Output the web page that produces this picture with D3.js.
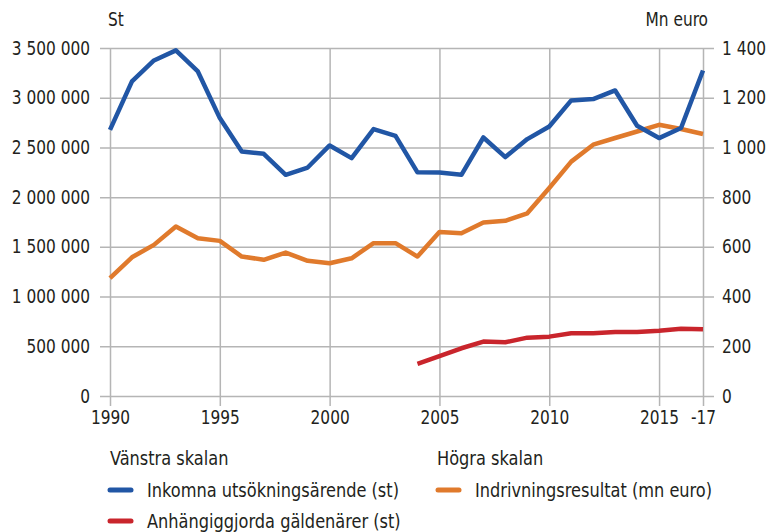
<!doctype html>
<html>
<head>
<meta charset="utf-8">
<script src="https://cdn.jsdelivr.net/npm/d3@7"></script>
<style>
  body { margin: 0; background: #fff; }
  svg { display: block; }
  text { font-family: "DejaVu Sans Condensed", "DejaVu Sans", sans-serif; fill: #231f20; }
</style>
</head>
<body>
<script>
// data
const years = d3.range(1990, 2018)
const inkomna = [2677000, 3164000, 3375000, 3476000, 3264000, 2795000, 2459000, 2436000, 2225000, 2298000,
                 2520000, 2392000, 2684000, 2617000, 2250000, 2248000, 2225000, 2600000, 2403000, 2584000,
                 2711000, 2973000, 2986000, 3073000, 2718000, 2594000, 2695000, 3274000]
const indrivning = [474, 558, 608, 682, 635, 624, 561, 548, 577, 544,
                    534, 554, 615, 615, 561, 660, 655, 698, 705, 735,
                    837, 943, 1011, 1038, 1064, 1091, 1074, 1054]
const gaeldYears = d3.range(2004, 2018)
const gaeldenarer = [322000, 400000, 480000, 547000, 540000, 587000, 597000, 631000, 631000, 644000,
                     644000, 657000, 677000, 671000]
const leftTicks = [0, 500000, 1000000, 1500000, 2000000, 2500000, 3000000, 3500000]
const rightTicks = [0, 200, 400, 600, 800, 1000, 1200, 1400]
const xTicks = [1990, 1995, 2000, 2005, 2010, 2015, 2017]
const xTickLabels = ['1990', '1995', '2000', '2005', '2010', '2015', '-17']

const w = 769
const h = 532
const pLeft = 110, pRight = 703, pTop = 48, pBottom = 396
const grid = '#b5b5b5'
const blue = '#2156a5'
const orange = '#e07a2c'
const red = '#c9252c'
const sx = 0.9 // the reference font is narrower than anything installed

const fmt = d3.formatLocale({ decimal: ',', thousands: ' ', grouping: [3], currency: ['', ' €'] }).format(',d')

// move x/y into a transform so the glyphs can be squeezed sideways
function squeeze(sel) {
    sel.each(function () {
        const t = d3.select(this)
        const tx = +t.attr('x') || 0
        const ty = +t.attr('y') || 0
        t.attr('x', 0).attr('y', 0)
            .attr('transform', `translate(${tx},${ty}) scale(${sx},1)`)
    })
}

const x = d3.scaleLinear().domain([1990, 2017]).range([pLeft, pRight])
const yL = d3.scaleLinear().domain([0, 3500000]).range([pBottom, pTop])
const yR = d3.scaleLinear().domain([0, 1400]).range([pBottom, pTop])

const svg = d3.select('body').append('svg')
    .attr('width', w)
    .attr('height', h)

//vertical grid + x labels
const xAxis = svg.append('g')
    .attr('transform', `translate(0,${pTop})`)
    .call(d3.axisBottom(x).tickValues(xTicks).tickSize(pBottom - pTop + 10).tickPadding(4)
        .tickFormat((d, i) => xTickLabels[i]))
xAxis.select('.domain').remove()
xAxis.selectAll('line').attr('stroke', grid).attr('stroke-width', 1.5)
xAxis.selectAll('text').attr('font-size', 19).attr('font-family', null).attr('fill', null).call(squeeze)

//horizontal grid + left labels
const gridW = pRight + 11 - (pLeft - 10)
const lAxis = svg.append('g')
    .attr('transform', `translate(${pRight + 11},0)`)
    .call(d3.axisLeft(yL).tickValues(leftTicks).tickSize(gridW).tickPadding(10)
        .tickFormat(fmt))
lAxis.select('.domain').remove()
lAxis.selectAll('line').attr('stroke', grid).attr('stroke-width', 1.5)
lAxis.selectAll('text').attr('font-size', 19).attr('font-family', null).attr('fill', null).call(squeeze)

//right labels only
const rAxis = svg.append('g')
    .attr('transform', `translate(${pLeft - 10},0)`)
    .call(d3.axisRight(yR).tickValues(rightTicks).tickSize(gridW).tickPadding(8)
        .tickFormat(fmt))
rAxis.select('.domain').remove()
rAxis.selectAll('line').remove()
rAxis.selectAll('text').attr('font-size', 19).attr('font-family', null).attr('fill', null).call(squeeze)

svg.append('text').attr('x', 108).attr('y', 26).attr('font-size', 19).text('St').call(squeeze)
svg.append('text').attr('x', 708).attr('y', 26).attr('font-size', 19).attr('text-anchor', 'end')
    .text('Mn euro').call(squeeze)

//lines
const lineL = d3.line().x(d => x(d[0])).y(d => yL(d[1]))
const lineR = d3.line().x(d => x(d[0])).y(d => yR(d[1]))
function drawLine(path, color) {
    svg.append('path')
        .attr('d', path)
        .attr('fill', 'none')
        .attr('stroke', color)
        .attr('stroke-width', 4.5)
        .attr('stroke-linejoin', 'round')
}
drawLine(lineR(d3.zip(years, indrivning)), orange)
drawLine(lineL(d3.zip(gaeldYears, gaeldenarer)), red)
drawLine(lineL(d3.zip(years, inkomna)), blue)

//legend
const legend = [
    { x: 108, y: 490, color: blue, label: 'Inkomna utsökningsärende (st)' },
    { x: 108, y: 521, color: red, label: 'Anhängiggjorda gäldenärer (st)' },
    { x: 436, y: 490, color: orange, label: 'Indrivningsresultat (mn euro)' }
]
svg.append('text').attr('x', 110).attr('y', 465).attr('font-size', 20).text('Vänstra skalan').call(squeeze)
svg.append('text').attr('x', 437).attr('y', 465).attr('font-size', 20).text('Högra skalan').call(squeeze)
const items = svg.selectAll('.leg')
    .data(legend)
    .enter()
    .append('g')
    .attr('transform', d => `translate(${d.x},${d.y})`)
items.append('line')
    .attr('x1', 2).attr('x2', 23)
    .attr('stroke', d => d.color)
    .attr('stroke-width', 5)
    .attr('stroke-linecap', 'round')
items.append('text')
    .attr('x', 39)
    .attr('y', 7)
    .attr('font-size', 20)
    .text(d => d.label)
    .call(squeeze)
</script>
</body>
</html>
